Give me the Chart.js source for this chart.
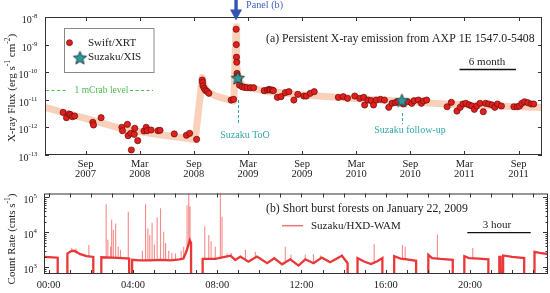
<!DOCTYPE html>
<html><head><meta charset="utf-8">
<script src="https://cdn.jsdelivr.net/npm/chart.js@4/dist/chart.umd.min.js"></script>
<style>
html,body{margin:0;padding:0;background:#fff;}
#wrap{position:relative;width:550px;height:293px;overflow:hidden;}
#c1{position:absolute;left:0;top:0;}
#c2{position:absolute;left:0;top:185px;}
</style></head><body>
<div id="wrap"><canvas id="c1" width="550" height="185"></canvas><canvas id="c2" width="550" height="108"></canvas></div>
<script>
// ---------- Panel (a) data : time in months since 1 Jan 2007, flux in erg/s/cm2 ----------
const xrtMonth = [5.51,5.88,6.17,6.32,6.54,6.79,8.80,8.88,9.72,12.02,12.09,12.64,12.71,13.01,13.07,13.40,13.45,13.78,14.47,14.72,14.83,15.27,16.03,16.25,17.83,19.18,19.54,20.31,
20.93,20.96,21.01,21.15,21.29,21.48,21.67,
24.14,24.41,
24.69,24.71,24.73,24.76,24.79,24.82,24.95,25.06,25.35,25.61,25.90,26.27,26.63,27.80,28.16,28.35,28.46,28.71,28.82,29.26,29.67,30.14,30.54,31.09,31.53,32.19,32.47,32.91,33.35,
36.02,36.57,37.04,37.84,38.39,38.83,38.94,39.31,39.67,39.92,40.22,40.69,41.13,41.61,41.97,42.33,42.60,43.21,43.69,44.16,44.42,44.90,45.23,45.45,45.81,
48.08,48.55,49.17,49.53,49.83,50.16,50.52,50.82,51.10,51.36,51.73,52.09,52.35,52.71,53.07,53.37,53.67,54.10,55.48,55.86,56.11,56.36,56.66,57.02,57.39,57.68];
const xrtFlux = [3.5e-12,2.25e-12,3.06e-12,2.89e-12,2.44e-12,2.59e-12,1.53e-12,1.22e-12,2.25e-12,1.01e-12,7.6e-13,1.29e-12,5.0e-13,6.1e-13,1.52e-13,5.6e-13,9.3e-13,3.3e-13,7.4e-13,1.01e-12,7.6e-13,8.05e-13,7.6e-13,7.85e-13,5.8e-13,5.2e-13,6.1e-13,3.7e-13,
5.2e-11,4.2e-11,3.2e-11,2.6e-11,2.2e-11,2.0e-11,1.72e-11,
9.8e-12,1.04e-11,
3.6e-9,1.0e-9,3.5e-10,2.3e-10,9.1e-11,7.3e-11,5.2e-11,3.4e-11,3.0e-11,2.8e-11,2.74e-11,2.74e-11,2.74e-11,2.14e-11,2.26e-11,2.40e-11,2.26e-11,2.26e-11,2.14e-11,1.23e-11,1.30e-11,1.81e-11,1.97e-11,9.8e-12,1.58e-11,1.37e-11,1.37e-11,1.72e-11,1.97e-11,
1.23e-11,1.30e-11,1.13e-11,1.37e-11,1.13e-11,1.23e-11,6.5e-12,9.8e-12,9.3e-12,6.5e-12,9.8e-12,1.04e-11,9.8e-12,5.35e-12,7.46e-12,7.85e-12,8.53e-12,7.05e-12,8.53e-12,7.46e-12,9.3e-12,9.8e-12,7.46e-12,9.05e-12,9.8e-12,
5.6e-12,8.1e-12,3.9e-12,5.35e-12,7.05e-12,7.46e-12,6.5e-12,5.96e-12,4.5e-12,5.96e-12,7.46e-12,3.7e-12,7.46e-12,7.05e-12,6.5e-12,5.35e-12,7.05e-12,5.96e-12,5.6e-12,5.6e-12,5.96e-12,7.46e-12,8.5e-12,7.85e-12,7.05e-12,7.05e-12];
const xisMonth = [24.88, 43.07];
const xisFlux = [6.4e-11, 9.8e-12];
const modelMonth = [3.4,5.48,9.21,12.05,16.44,20.16,20.93,21.15,21.59,22.47,24.0,24.44,24.68,24.72,24.77,24.88,25.1,25.42,25.97,27.07,28.16,29.26,31.45,36.93,42.41,47.89,53.37,58.7];
const modelFlux = [5.4e-12,3.47e-12,1.64e-12,8.75e-13,5.31e-13,3.65e-13,6.4e-11,3.16e-11,1.9e-11,1.37e-11,9.8e-12,9.05e-12,4.3e-9,6.4e-10,1.8e-10,8e-11,4.8e-11,3.4e-11,2.8e-11,2.4e-11,1.97e-11,1.9e-11,1.56e-11,1.16e-11,9.0e-12,7.0e-12,5.96e-12,5.3e-12];
const monthTickValues = [8,14,20,26,32,38,44,50,56];
const monthTickLabels = [['Sep','2007'],['Mar','2008'],['Sep','2008'],['Mar','2009'],['Sep','2009'],['Mar','2010'],['Sep','2010'],['Mar','2011'],['Sep','2011']];
const fluxDecades = [-13,-12,-11,-10,-9,-8];
const mCrabFlux = 2.2e-11;
const burstMonth = 24.68;   // January 22, 2009

// ---------- Panel (b) data : hours of 2009-01-22, counts/s ----------
const LOW = 300;
const wamBaseHour = [-0.25,0.2,0.43,0.43, 0.89,0.89,1.05,1.2,1.35,1.5,1.8,2.12,2.12, 2.50,2.50,3.0,3.5,3.82,3.82,
 3.96,3.96,4.3,4.8,5.3,5.8,6.2,6.4,6.55,6.7,6.76,6.76,
 7.31,7.31,7.91,8.63,8.86,9.10,9.48,9.89,10.37,10.71,11.08,11.47,11.86,12.18,12.57,12.97,13.36,13.92,14.19,14.19,
 14.66,14.66,15.0,15.3,15.6,15.84,15.84, 16.40,16.40,16.7,17.0,17.44,17.44, 18.02,18.02,18.2,18.6,19.18,19.18,
 19.73,19.73,19.95,20.4,20.87,20.87, 21.39,21.39,21.45,21.47,21.57,21.57,22.0,22.57,22.57, 23.06,23.06,23.3,23.75];
const wamBaseRate = [2.0e3,1.95e3,1.9e3,LOW, LOW,2.5e3,2.9e3,3.0e3,2.7e3,2.4e3,2.1e3,2.0e3,LOW, LOW,1.95e3,1.9e3,1.85e3,1.8e3,LOW,
 LOW,1.65e3,1.6e3,1.6e3,1.65e3,1.6e3,1.7e3,1.8e3,3.0e3,6.0e3,5.0e3,LOW,
 LOW,1.75e3,1.75e3,2.17e3,1.64e3,2.04e3,1.46e3,2.04e3,1.32e3,1.83e3,1.23e3,1.71e3,1.13e3,1.71e3,1.32e3,1.91e3,1.41e3,2.17e3,1.32e3,LOW,
 LOW,1.85e3,1.45e3,1.25e3,1.5e3,1.85e3,LOW, LOW,2.1e3,1.8e3,1.7e3,1.55e3,LOW, LOW,2.3e3,1.85e3,1.75e3,1.65e3,LOW,
 LOW,2.1e3,1.85e3,1.8e3,1.7e3,LOW, LOW,2.0e3,2.0e3,LOW,LOW,2.2e3,2.0e3,1.85e3,LOW, LOW,2.8e3,2.6e3,2.4e3];
const burstHour = [1.1,1.3,1.91, 2.73,2.81,2.94,2.99,3.07,3.18,3.30,3.41,3.78,
 4.45,4.60,4.71,4.80,4.91,5.02,5.15,5.31,5.46,5.55,5.70,5.85,6.02,6.29,6.41,6.57,6.65,6.71,
 7.41,7.60,7.71,7.91,8.15,8.23,8.47,8.67,9.34,9.81,11.23,11.5,12.18,12.57,12.9,13.92,
 15.45,16.79,16.92,18.45,20.13];
const burstBase = [2.9e3,2.8e3,2.1e3, 1.95e3,1.95e3,1.9e3,1.9e3,1.9e3,1.9e3,1.9e3,1.85e3,1.8e3,
 1.6e3,1.6e3,1.6e3,1.6e3,1.6e3,1.65e3,1.65e3,1.65e3,1.65e3,1.6e3,1.6e3,1.6e3,1.65e3,1.7e3,1.8e3,3e3,4e3,5e3,
 1.8e3,1.8e3,1.8e3,1.75e3,1.9e3,2e3,2.1e3,2.1e3,1.6e3,1.9e3,1.5e3,1.7e3,1.7e3,1.35e3,1.8e3,2.1e3,
 1.3e3,1.8e3,1.75e3,1.8e3,1.8e3];
const burstPeak = [3.6e3,3.5e3,4.4e3, 6.4e4,6.2e3,3.9e3,2.3e4,1.2e4,1.8e4,3.9e3,3.2e3,3.9e4,
 3.0e3,6.4e4,1.3e4,8.5e3,1.9e4,4.5e3,2.7e4,4.9e4,1.05e4,5.0e3,3.0e3,2.6e3,2.5e3,3.0e3,3.9e3,6.0e4,1.3e5,5.5e4,
 1.5e4,8.5e3,5.5e3,3.9e3,2e5,2.8e4,2.5e3,2.6e3,3.2e3,2.8e3,3.9e3,2.3e3,2.3e3,2.4e3,2.2e3,2.4e3,
 4.6e3,4.4e3,3.9e3,8.7e3,3.6e3];
const hourTickValues = [0,1,2,3,4,5,6,7,8,9,10,11,12,13,14,15,16,17,18,19,20,21,22,23];
const hourLabels = {0:'00:00',4:'04:00',8:'08:00',12:'12:00',16:'16:00',20:'20:00'};
const rateDecades = [3,4,5];

// ---------- helpers ----------
const SERIF = '"Liberation Serif","Times New Roman",serif';
function richText(ctx, parts, x, y, size, align){
  let w = 0; const ws = [];
  parts.forEach(([t,s])=>{ ctx.font = (s? size*0.68 : size)+'px '+SERIF; const m = ctx.measureText(t).width; ws.push(m); w += m; });
  let cx = align==='right' ? x-w : (align==='center' ? x-w/2 : x);
  ctx.textAlign='left'; ctx.textBaseline='middle';
  parts.forEach(([t,s],i)=>{ ctx.font=(s? size*0.68 : size)+'px '+SERIF; ctx.fillText(t, cx, s ? y-size*0.36 : y); cx += ws[i]; });
}
function makeStar(r, fill, stroke){
  const c = document.createElement('canvas'); const s = Math.ceil(r*2+3); c.width=s; c.height=s;
  const g = c.getContext('2d'); g.beginPath();
  for(let i=0;i<10;i++){ const a=-Math.PI/2+i*Math.PI/5; const rr=(i%2)? r*0.45 : r; g.lineTo(s/2+rr*Math.cos(a), s/2+1+rr*Math.sin(a)); }
  g.closePath(); g.fillStyle=fill; g.fill(); g.lineWidth=0.9; g.strokeStyle=stroke; g.stroke(); return c;
}
const starImg = makeStar(7, '#2a9a9c', '#1b3a3c');
const DOT_FILL = '#e0201c', DOT_EDGE = '#6a0c0c';
const TEAL = '#33a8a8';

function frame(ctx, a){ ctx.save(); ctx.strokeStyle='#333'; ctx.lineWidth=1; ctx.strokeRect(a.left+0.5, a.top+0.5, a.right-a.left-1, a.bottom-a.top-1); ctx.restore(); }

// ---------- Chart (a) ----------
const deco1 = {
  id:'deco1',
  afterDatasetsDraw(chart){
    const ctx = chart.ctx, a = chart.chartArea, xs = chart.scales.x, ys = chart.scales.y;
    ctx.save();
    frame(ctx, a);
    ctx.strokeStyle='#333'; ctx.lineWidth=1;
    monthTickValues.forEach(v=>{ const px = Math.round(xs.getPixelForValue(v))+0.5;
      ctx.beginPath(); ctx.moveTo(px,a.bottom); ctx.lineTo(px,a.bottom-4); ctx.moveTo(px,a.top); ctx.lineTo(px,a.top+4); ctx.stroke(); });
    fluxDecades.forEach(e=>{ const py = Math.round(ys.getPixelForValue(Math.pow(10,e)))+0.5;
      ctx.beginPath(); ctx.moveTo(a.left,py); ctx.lineTo(a.left+4,py); ctx.moveTo(a.right,py); ctx.lineTo(a.right-4,py); ctx.stroke();
      ctx.fillStyle='#222'; richText(ctx, [['10',0],[String(e),1]], 37.5, py+2.5, 10, 'right'); });
    // y title
    ctx.save(); ctx.translate(12, 88); ctx.rotate(-Math.PI/2); ctx.fillStyle='#222';
    richText(ctx, [['X-ray Flux (erg s',0],['-1',1],[' cm',0],['-2',1],[')',0]], 0, 0, 11, 'center'); ctx.restore();
    // panel title
    ctx.fillStyle='#222'; ctx.font='11.8px '+SERIF; ctx.textAlign='left'; ctx.textBaseline='middle';
    ctx.fillText('(a) Persistent X-ray emission from AXP 1E 1547.0-5408', 266, 38.5);
    // legend box
    ctx.fillStyle='#fff'; ctx.fillRect(64.5,28.5,89.5,44); ctx.strokeStyle='#888'; ctx.lineWidth=1; ctx.strokeRect(64.5,28.5,89.5,44);
    ctx.beginPath(); ctx.arc(69.5,42.7,3,0,Math.PI*2); ctx.fillStyle=DOT_FILL; ctx.fill(); ctx.lineWidth=0.7; ctx.strokeStyle=DOT_EDGE; ctx.stroke();
    ctx.drawImage(starImg, 80-starImg.width/2, 57.3-starImg.height/2);
    ctx.fillStyle='#222'; ctx.font='11px '+SERIF; ctx.textBaseline='middle'; ctx.textAlign='left';
    ctx.fillText('Swift/XRT', 88, 42.7); ctx.fillText('Suzaku/XIS', 88, 57.3);
    // 6 month bar
    ctx.textAlign='center'; ctx.fillText('6 month', 487, 62);
    ctx.strokeStyle='#111'; ctx.lineWidth=1.3; ctx.beginPath(); ctx.moveTo(459.5,69.5); ctx.lineTo(516,69.5); ctx.stroke();
    // 1 mCrab level
    const my = Math.round(ys.getPixelForValue(mCrabFlux))+0.5;
    ctx.strokeStyle='#4cbb4c'; ctx.lineWidth=1; ctx.setLineDash([3,2.5]);
    ctx.beginPath(); ctx.moveTo(a.left+1,my); ctx.lineTo(66,my); ctx.moveTo(130,my); ctx.lineTo(153,my); ctx.stroke();
    ctx.setLineDash([]); ctx.fillStyle='#4cbb4c'; ctx.font='9.5px '+SERIF; ctx.textAlign='center'; ctx.fillText('1 mCrab level', 101.5, my);
    // Suzaku annotations
    ctx.strokeStyle=TEAL; ctx.setLineDash([3,2]); ctx.lineWidth=1;
    const x1 = Math.round(xs.getPixelForValue(xisMonth[0]))+0.5, x2 = Math.round(xs.getPixelForValue(xisMonth[1]))+0.5;
    ctx.beginPath(); ctx.moveTo(x1,100); ctx.lineTo(x1,125); ctx.moveTo(x2,113); ctx.lineTo(x2,124); ctx.stroke(); ctx.setLineDash([]);
    ctx.fillStyle=TEAL; ctx.font='10px '+SERIF; ctx.textAlign='center';
    ctx.fillText('Suzaku ToO', 245, 135); ctx.fillText('Suzaku follow-up', 410, 130);
    // Panel (b) arrow
    const ax = xs.getPixelForValue(burstMonth);
    ctx.fillStyle='#3354b3'; ctx.fillRect(ax-1.7,0,3.4,10);
    ctx.beginPath(); ctx.moveTo(ax-6,9.5); ctx.lineTo(ax+6,9.5); ctx.lineTo(ax,20.5); ctx.closePath(); ctx.fill();
    ctx.fillStyle='#4462c0'; ctx.font='10.2px '+SERIF; ctx.textAlign='left'; ctx.fillText('Panel (b)', 246, 5.5);
    ctx.restore();
  }
};

new Chart(document.getElementById('c1'), {
  type:'scatter',
  data:{ datasets:[
    { label:'Model', showLine:true, data: modelMonth.map((m,i)=>({x:m,y:modelFlux[i]})), borderColor:'rgba(247,190,158,0.72)', borderWidth:7, pointRadius:0, order:3, clip:0, borderJoinStyle:'round', borderCapStyle:'butt' },
    { label:'Swift/XRT', data: xrtMonth.map((m,i)=>({x:m,y:xrtFlux[i]})), backgroundColor:DOT_FILL, borderColor:DOT_EDGE, borderWidth:0.7, pointRadius:3.1, order:2 },
    { label:'Suzaku/XIS', data: xisMonth.map((m,i)=>({x:m,y:xisFlux[i]})), pointStyle:starImg, pointRadius:7, order:1 }
  ]},
  options:{
    responsive:false, animation:false, devicePixelRatio:1,
    layout:{ padding:{ top:17, right:2, left:0, bottom:0 } },
    plugins:{ legend:{display:false}, tooltip:{enabled:false} },
    scales:{
      x:{ type:'linear', min:3.5, max:58.6,
        afterBuildTicks:s=>{ s.ticks = monthTickValues.map(v=>({value:v})); },
        ticks:{ autoSkip:false, maxRotation:0, padding:4, color:'#222', font:{family:SERIF,size:10.5,lineHeight:0.95}, callback:(v,i)=>monthTickLabels[i] },
        grid:{display:false, drawTicks:false}, border:{display:false},
        afterFit:s=>{ s.height = 30; } },
      y:{ type:'logarithmic', min:1e-13, max:1e-8,
        ticks:{display:false}, grid:{display:false, drawTicks:false}, border:{display:false},
        afterFit:s=>{ s.width = 45; } }
    }
  },
  plugins:[deco1]
});

// ---------- Chart (b) ----------
const baseData = wamBaseHour.map((h,i)=>({x:h,y:wamBaseRate[i]}));
const burstData = [];
burstHour.forEach((h,i)=>{ burstData.push({x:h,y:burstBase[i]},{x:h,y:burstPeak[i]},{x:h,y:null}); });

const deco2 = {
  id:'deco2',
  afterDatasetsDraw(chart){
    const ctx = chart.ctx, a = chart.chartArea, xs = chart.scales.x, ys = chart.scales.y;
    ctx.save();
    frame(ctx, a);
    ctx.strokeStyle='#333'; ctx.lineWidth=1;
    hourTickValues.forEach(v=>{ const px = Math.round(xs.getPixelForValue(v))+0.5;
      ctx.beginPath(); ctx.moveTo(px,a.bottom); ctx.lineTo(px,a.bottom-4); ctx.moveTo(px,a.top); ctx.lineTo(px,a.top+4); ctx.stroke(); });
    for(let e=2;e<=5;e++){ for(let m=1;m<=9;m++){ const v = m*Math.pow(10,e); if(v<ys.min||v>ys.max) continue;
      const py = Math.round(ys.getPixelForValue(v))+0.5; const L = m===1?5:2.5;
      ctx.beginPath(); ctx.moveTo(a.left,py); ctx.lineTo(a.left+L,py); ctx.moveTo(a.right,py); ctx.lineTo(a.right-L,py); ctx.stroke(); } }
    rateDecades.forEach(e=>{ const py = ys.getPixelForValue(Math.pow(10,e)); ctx.fillStyle='#222'; richText(ctx, [['10',0],[String(e),1]], 37, py+2.5, 10, 'right'); });
    ctx.save(); ctx.translate(12, 54); ctx.rotate(-Math.PI/2); ctx.fillStyle='#222';
    richText(ctx, [['Count Rate (cnts s',0],['-1',1],[')',0]], 0, 0, 11, 'center'); ctx.restore();
    ctx.fillStyle='#222'; ctx.font='11.8px '+SERIF; ctx.textAlign='left'; ctx.textBaseline='middle';
    ctx.fillText('(b) Short burst forests on January 22, 2009', 266, 24);
    ctx.strokeStyle='rgba(240,70,70,0.75)'; ctx.lineWidth=1.5; ctx.beginPath(); ctx.moveTo(282,40.7); ctx.lineTo(303,40.7); ctx.stroke();
    ctx.font='11px '+SERIF; ctx.fillText('Suzaku/HXD-WAM', 311, 40.7);
    ctx.textAlign='center'; ctx.fillText('3 hour', 497, 40);
    ctx.strokeStyle='#111'; ctx.lineWidth=1.3; ctx.beginPath(); ctx.moveTo(467.3,47.7); ctx.lineTo(530.7,47.7); ctx.stroke();
    ctx.restore();
  }
};

new Chart(document.getElementById('c2'), {
  type:'scatter',
  data:{ datasets:[
    { label:'bursts', showLine:true, data:burstData, borderColor:'rgba(240,60,60,0.6)', borderWidth:1.1, pointRadius:0, spanGaps:false, order:2 },
    { label:'Suzaku/HXD-WAM', showLine:true, data:baseData, borderColor:'rgba(232,38,38,0.92)', borderWidth:2.3, pointRadius:0, order:1 }
  ]},
  options:{
    responsive:false, animation:false, devicePixelRatio:1,
    layout:{ padding:{ top:8.5, right:2, left:0, bottom:0 } },
    plugins:{ legend:{display:false}, tooltip:{enabled:false} },
    scales:{
      x:{ type:'linear', min:-0.22, max:23.7,
        afterBuildTicks:s=>{ s.ticks = hourTickValues.map(v=>({value:v})); },
        ticks:{ autoSkip:false, maxRotation:0, padding:5, color:'#222', font:{family:SERIF,size:10.5}, callback:(v)=> hourLabels[v] || '' },
        grid:{display:false, drawTicks:false}, border:{display:false},
        afterFit:s=>{ s.height = 19; } },
      y:{ type:'logarithmic', min:650, max:1.3e5,
        ticks:{display:false}, grid:{display:false, drawTicks:false}, border:{display:false},
        afterFit:s=>{ s.width = 44; } }
    }
  },
  plugins:[deco2]
});
</script>
</body></html>
